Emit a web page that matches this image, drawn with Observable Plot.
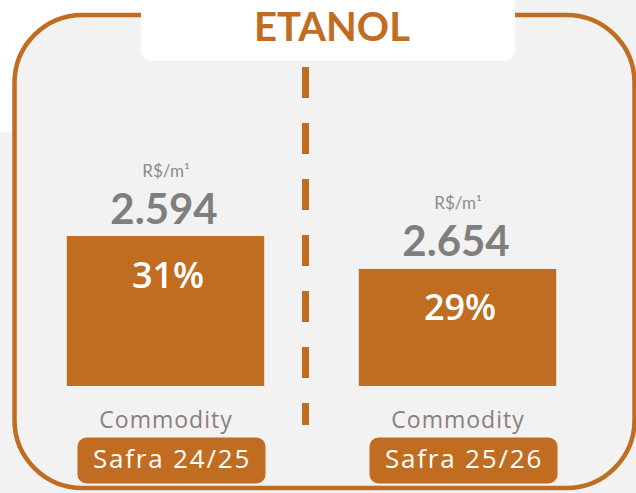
<!DOCTYPE html>
<html>
<head>
<meta charset="utf-8">
<script src="https://cdn.jsdelivr.net/npm/d3@7"></script>
<script src="https://cdn.jsdelivr.net/npm/@observablehq/plot@0.6"></script>
<style>
  html, body { margin: 0; padding: 0; background: #f2f2f2; }
  #wrap { position: relative; width: 636px; height: 493px; overflow: hidden; background: #f2f2f2; }
  #patch { position: absolute; left: 0; top: 0; width: 141px; height: 132px; background: #ffffff; }
  #chart { position: absolute; left: 0; top: 0; }
  #title { position: absolute; left: 141px; top: 0; width: 374px; height: 61px; background: #ffffff;
           border-radius: 0 0 12px 12px; }
  #title span { position: absolute; left: 0; right: 0; top: 5.5px; text-align: center; padding-left: 8px;
                font-family: "Lato", sans-serif; font-weight: 700; font-size: 40px; line-height: 40px;
                color: #c06d22; }
</style>
</head>
<body>
<div id="wrap">
  <div id="patch"></div>
  <div id="chart"></div>
  <div id="title"><span id="titleText"></span></div>
</div>
<script>
// ---- data ----
const title = "ETANOL";
const categories = ["Safra 24/25", "Safra 25/26"];
const prices = [2594, 2654];
const shares = [31, 29];
const unitLabel = "R$/m¹";
const subLabel = "Commodity";

// ---- config ----
const orange = "#c06d22";
const yFloor = 21.9;
const fmt = d3.formatLocale({decimal: ",", thousands: ".", grouping: [3], currency: ["R$", ""]}).format(",d");
const data = categories.map((c, i) => ({safra: c, price: prices[i], share: shares[i], i}));
const hw = 0.338;   // bar half width (band units)
const lw = 0.322;   // label box half width

document.getElementById("titleText").textContent = title;

const chart = Plot.plot({
  width: 636,
  height: 493,
  marginLeft: 14,
  marginRight: 2,
  marginTop: 14.5,
  marginBottom: 5.5,
  style: "background: transparent; overflow: visible;",
  x: {domain: [-0.5, 1.5], range: [19.5, 603.5], axis: null},
  y: {domain: [yFloor, 31], range: [386, 236], axis: null},
  marks: [
    Plot.frame({fill: "#f2f2f2", stroke: orange, strokeWidth: 4.5, rx: 68}),
    Plot.ruleX([0.5], {stroke: orange, strokeWidth: 7, strokeDasharray: "31,25",
      insetTop: 52.5, insetBottom: 62.5, dx: -6.5}),
    Plot.rect(data, {x1: d => d.i - hw, x2: d => d.i + hw, y1: () => yFloor, y2: "share", fill: orange}),
    Plot.text(data, {x: "i", y: "share", text: () => unitLabel, dy: -60, lineAnchor: "bottom",
      fontSize: 17, fill: "#8c8c8c", fontFamily: "Lato"}),
    Plot.text(data, {x: "i", y: "share", text: d => fmt(d.price), dy: -13, lineAnchor: "bottom",
      fontSize: 42, fontWeight: 700, fill: "#7f7f7f", fontFamily: "Lato", dx: -2}),
    Plot.text(data, {x: "i", y: "share", text: d => d.share + "%", dy: 51, lineAnchor: "bottom",
      fontSize: 36, fontWeight: 600, fill: "#ffffff", fontFamily: "Open Sans", dx: 2}),
    Plot.text(data, {x: "i", frameAnchor: "bottom", text: () => subLabel, dy: -60, lineAnchor: "bottom",
      fontSize: 23, fill: "#8a7f7c", fontFamily: "Open Sans"}),
    Plot.rect(data, {x1: d => d.i - lw, x2: d => d.i + lw, fill: orange, insetTop: 423, insetBottom: 4,
      rx: 9, dx: 6}),
    Plot.text(data, {x: "i", frameAnchor: "bottom", text: "safra", dy: -20.5, lineAnchor: "bottom",
      fontSize: 26, fill: "#ffffff", fontFamily: "Open Sans", dx: 6})
  ]
});
// widen letter spacing of the bottom labels to match the reference's wide font
d3.select(chart).selectAll("text")
  .filter(function() { return categories.includes(this.textContent); })
  .attr("letter-spacing", "1.8px");
d3.select(chart).selectAll("text")
  .filter(function() { return this.textContent === subLabel; })
  .attr("letter-spacing", "1px");
document.getElementById("chart").appendChild(chart);
</script>
</body>
</html>
